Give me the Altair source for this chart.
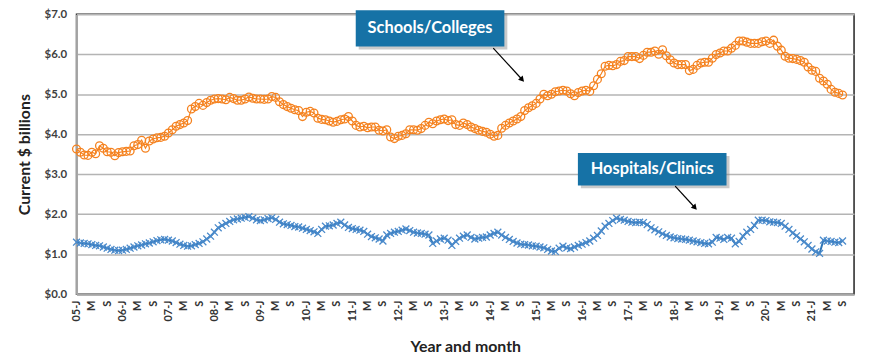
import altair as alt
import pandas as pd

# Monthly values, Jan 2005 (index 0) .. Sep 2021 (index 200), $ billions
schools = [
    3.63, 3.55, 3.48, 3.47, 3.55, 3.51, 3.71, 3.65, 3.56, 3.55, 3.46, 3.54,
    3.56, 3.57, 3.58, 3.71, 3.74, 3.85, 3.65, 3.83, 3.88, 3.91, 3.92, 3.95,
    4.03, 4.11, 4.20, 4.24, 4.28, 4.34, 4.63, 4.69, 4.77, 4.72, 4.79, 4.85,
    4.88, 4.89, 4.88, 4.86, 4.92, 4.89, 4.85, 4.85, 4.88, 4.93, 4.90, 4.88,
    4.88, 4.87, 4.88, 4.94, 4.92, 4.81, 4.74, 4.69, 4.65, 4.61, 4.59, 4.44,
    4.55, 4.57, 4.53, 4.40, 4.37, 4.36, 4.33, 4.30, 4.32, 4.36, 4.38, 4.44,
    4.33, 4.22, 4.18, 4.20, 4.16, 4.18, 4.18, 4.10, 4.08, 4.11, 3.93, 3.89,
    3.95, 3.97, 4.01, 4.11, 4.11, 4.10, 4.14, 4.22, 4.30, 4.26, 4.33, 4.36,
    4.38, 4.34, 4.36, 4.24, 4.22, 4.28, 4.24, 4.18, 4.14, 4.10, 4.07, 4.05,
    4.00, 3.95, 3.97, 4.15, 4.22, 4.28, 4.33, 4.38, 4.44, 4.59, 4.66, 4.71,
    4.77, 4.88, 5.00, 4.96, 5.00, 5.06, 5.08, 5.10, 5.08, 5.01, 4.96, 5.04,
    5.08, 5.10, 5.07, 5.21, 5.37, 5.51, 5.70, 5.72, 5.71, 5.74, 5.82, 5.84,
    5.94, 5.94, 5.94, 5.89, 5.97, 6.05, 6.05, 6.08, 6.00, 6.11, 5.96, 5.86,
    5.78, 5.74, 5.74, 5.74, 5.59, 5.62, 5.72, 5.78, 5.80, 5.80, 5.90, 5.99,
    6.03, 6.08, 6.08, 6.15, 6.22, 6.33, 6.33, 6.30, 6.27, 6.27, 6.27, 6.31,
    6.33, 6.27, 6.35, 6.20, 6.10, 5.95, 5.90, 5.89, 5.87, 5.84, 5.80, 5.68,
    5.60, 5.57, 5.40, 5.33, 5.25, 5.12, 5.05, 5.02, 4.98,
]
hospitals = [
    1.30, 1.28, 1.27, 1.26, 1.24, 1.22, 1.21, 1.18, 1.15, 1.12, 1.10, 1.09,
    1.10, 1.12, 1.15, 1.18, 1.21, 1.23, 1.26, 1.28, 1.31, 1.34, 1.36, 1.37,
    1.35, 1.33, 1.29, 1.25, 1.22, 1.20, 1.21, 1.24, 1.27, 1.31, 1.38, 1.45,
    1.55, 1.66, 1.72, 1.77, 1.82, 1.86, 1.88, 1.90, 1.92, 1.94, 1.90, 1.86,
    1.84, 1.86, 1.89, 1.91, 1.87, 1.80, 1.76, 1.74, 1.72, 1.69, 1.68, 1.65,
    1.62, 1.59, 1.56, 1.52, 1.62, 1.70, 1.71, 1.73, 1.77, 1.80, 1.73, 1.67,
    1.64, 1.62, 1.60, 1.57, 1.50, 1.44, 1.41, 1.38, 1.33, 1.48, 1.52, 1.55,
    1.57, 1.60, 1.63, 1.59, 1.55, 1.53, 1.52, 1.50, 1.48, 1.27, 1.33, 1.38,
    1.40, 1.35, 1.22, 1.32, 1.40, 1.45, 1.48, 1.42, 1.38, 1.40, 1.42, 1.43,
    1.48, 1.52, 1.55, 1.48, 1.42, 1.37, 1.32, 1.28, 1.25, 1.24, 1.23, 1.21,
    1.20, 1.18, 1.16, 1.12, 1.08, 1.07, 1.15, 1.20, 1.16, 1.14, 1.18, 1.22,
    1.25, 1.29, 1.33, 1.40, 1.47, 1.58, 1.70, 1.77, 1.84, 1.90, 1.87, 1.85,
    1.82, 1.80, 1.79, 1.80, 1.79, 1.74, 1.66, 1.61, 1.56, 1.51, 1.47, 1.43,
    1.41, 1.39, 1.38, 1.37, 1.35, 1.33, 1.31, 1.29, 1.27, 1.26, 1.30, 1.42,
    1.40, 1.37, 1.42, 1.40, 1.26, 1.32, 1.45, 1.55, 1.62, 1.72, 1.85, 1.85,
    1.84, 1.81, 1.80, 1.79, 1.77, 1.70, 1.62, 1.53, 1.46, 1.38, 1.31, 1.22,
    1.13, 1.06, 1.02, 1.35, 1.33, 1.32, 1.30, 1.29, 1.33,
]
months = list(range(len(schools)))

years = ["05", "06", "07", "08", "09", "10", "11", "12", "13", "14", "15",
         "16", "17", "18", "19", "20", "21"]
tick_labels = []
for yy in years:
    tick_labels += [yy + "-J", "M", "S"]
tick_values = [4 * i for i in range(len(tick_labels))]

# Annotations (in data units: month index, $ billions)
box_labels = ["Schools/Colleges", "Hospitals/Clinics"]
box_x1 = [72.9, 130.9]
box_x2 = [111.7, 169.7]
box_y1 = [6.19, 2.72]
box_y2 = [7.10, 3.53]
arrow_x1 = [108.8, 156.3]
arrow_y1 = [6.15, 2.70]
arrow_x2 = [116.2, 161.3]
arrow_y2 = [5.38, 2.18]
arrow_angle = [138, 138]

ORANGE = "#F5821F"
BLUE = "#2E75B6"
BOX = "#1672A6"

df_s = pd.DataFrame({"m": months, "v": schools})
df_h = pd.DataFrame({"m": months, "v": hospitals})
boxes = pd.DataFrame({
    "label": box_labels, "x1": box_x1, "x2": box_x2, "y1": box_y1, "y2": box_y2,
    "xc": [(a + b) / 2 for a, b in zip(box_x1, box_x2)],
    "yc": [(a + b) / 2 for a, b in zip(box_y1, box_y2)],
})
arrows = pd.DataFrame({"x1": arrow_x1, "y1": arrow_y1, "x2": arrow_x2,
                       "y2": arrow_y2, "ang": arrow_angle})

label_expr = "[" + ",".join("'" + t + "'" for t in tick_labels) + "][round(datum.value/4)]"

x_scale = alt.Scale(domain=[0, 203], nice=False, zero=False)
y_scale = alt.Scale(domain=[0, 7], nice=False)

x_axis = alt.Axis(
    title="Year and month", values=tick_values, tickCount=len(tick_values) + 10,
    labelExpr=label_expr,
    labelAngle=270, labelAlign="right", labelBaseline="middle",
    labelPadding=6, ticks=False, grid=False, domain=True,
    domainColor="#A6A6A6", domainWidth=2,
    labelFont="Lato", labelFontSize=11, labelFontWeight="bold", labelColor="#333333",
    titleFont="Lato", titleFontSize=16, titleFontWeight="bold", titleColor="#222222",
    titlePadding=18, labelOverlap=False, labelSeparation=0, labelBound=False,
)
y_axis = alt.Axis(
    title="Current $ billions", values=[0, 1, 2, 3, 4, 5, 6, 7], format="$.1f",
    ticks=False, grid=True, gridColor="#B4B4B4", gridWidth=1.5,
    domain=True, domainColor="#A6A6A6", domainWidth=2, labelPadding=10,
    labelFont="Lato", labelFontSize=11.5, labelFontWeight="bold", labelColor="#404040",
    titleFont="Lato", titleFontSize=16, titleFontWeight="bold", titleColor="#222222",
    titlePadding=12,
)

base_s = alt.Chart(df_s)
base_h = alt.Chart(df_h)

s_line = base_s.mark_line(color=ORANGE, strokeWidth=1.2).encode(
    x=alt.X("m:Q", scale=x_scale, axis=x_axis),
    y=alt.Y("v:Q", scale=y_scale, axis=y_axis),
)
s_pts = base_s.mark_point(shape="circle", filled=False, color=ORANGE, size=62,
                          strokeWidth=1.3, opacity=1).encode(
    x=alt.X("m:Q", scale=x_scale), y=alt.Y("v:Q", scale=y_scale))

h_line = base_h.mark_line(color=BLUE, strokeWidth=2.0).encode(
    x=alt.X("m:Q", scale=x_scale), y=alt.Y("v:Q", scale=y_scale))
h_pts = base_h.mark_point(shape="M-1,-1L1,1M-1,1L1,-1", filled=False, color="#4A8ACB",
                          size=48, strokeWidth=1.3, opacity=1).encode(
    x=alt.X("m:Q", scale=x_scale), y=alt.Y("v:Q", scale=y_scale))

bx = alt.Chart(boxes)
shadow = bx.mark_rect(color="#8A8A8A", opacity=0.45, xOffset=3, x2Offset=3,
                      yOffset=3, y2Offset=3).encode(
    x=alt.X("x1:Q", scale=x_scale), x2="x2:Q",
    y=alt.Y("y1:Q", scale=y_scale), y2="y2:Q")
rect = bx.mark_rect(color=BOX).encode(
    x=alt.X("x1:Q", scale=x_scale), x2="x2:Q",
    y=alt.Y("y1:Q", scale=y_scale), y2="y2:Q")
txt = bx.mark_text(color="white", font="Lato", fontSize=16.5, fontWeight="bold",
                   align="center", baseline="middle").encode(
    x=alt.X("xc:Q", scale=x_scale), y=alt.Y("yc:Q", scale=y_scale), text="label:N")

ar = alt.Chart(arrows)
rule = ar.mark_rule(color="black", strokeWidth=1.2).encode(
    x=alt.X("x1:Q", scale=x_scale), x2="x2:Q",
    y=alt.Y("y1:Q", scale=y_scale), y2="y2:Q")
head = ar.mark_point(shape="triangle", filled=True, color="black", size=40,
                     opacity=1).encode(
    x=alt.X("x2:Q", scale=x_scale), y=alt.Y("y2:Q", scale=y_scale),
    angle=alt.Angle("ang:Q", scale=None))

chart = alt.layer(
    s_line, s_pts, h_line, h_pts, shadow, rect, txt, rule, head
).properties(
    width=783, height=282,
    padding={"left": 69, "top": 5, "right": 8, "bottom": 60},
    autosize=alt.AutoSizeParams(type="none"),
    background="white",
).configure_view(
    stroke="#222222", strokeWidth=1.5
).configure_axisX(labelOverlap=False)

chart.save("out.html", embed_options={"renderer": "svg", "actions": False})
